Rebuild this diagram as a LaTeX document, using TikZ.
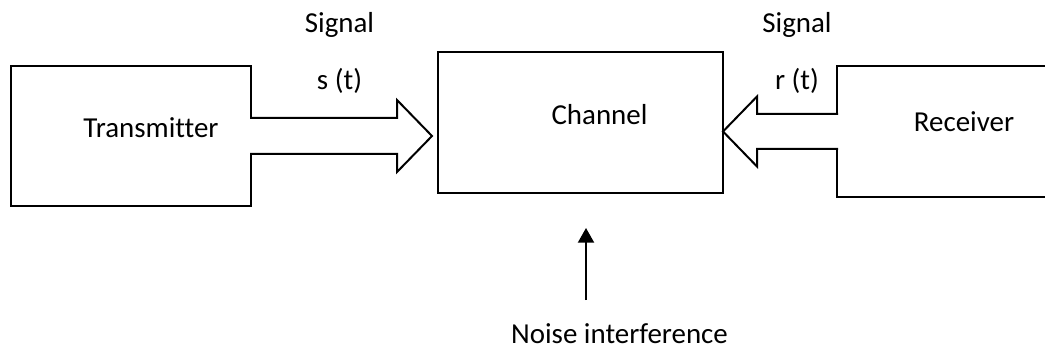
\documentclass[tikz,border=0pt]{standalone}
\usepackage{fontspec}
\setmainfont{Carlito}[Ligatures=NoCommon]
\usepackage{tikz}
\usetikzlibrary{calc,arrows.meta}
\tikzset{
    signal-box/.style = {draw=black, line width=1.5pt, rectangle, inner sep=0pt},
    block-arrow/.style = {draw=black, fill=white, line width=1.5pt, line join=miter},
    noise-arrow/.style = {draw=black, line width=1.5pt, -{Triangle[width=12pt,length=11pt]}},
    box-text/.style = {font=\fontsize{21.7}{26}\selectfont, inner sep=0pt, anchor=base},
}

\begin{document}
\begin{tikzpicture}[x=0.75pt, y=-0.75pt]
\clip (0,0) rectangle (1045,349);

\node[signal-box, minimum width=180pt, minimum height=105pt] (tx) at (131,136) {};
\node[signal-box, minimum width=213.75pt, minimum height=105.75pt] (ch) at (580.5,122.5) {};
\node[signal-box, minimum width=180pt, minimum height=98.25pt] (rx) at (957,131.5) {};

\draw[block-arrow] ($(tx.east)+(-2,-18)$) -- ($(ch.west|-tx.east)+(-40,-18)$) -- ++(0,-18)
    -- ($(ch.west|-tx.east)+(-5,0)$) -- ++(-35,36) -- ++(0,-18) -- ($(tx.east)+(-2,18)$);
\draw[block-arrow] ($(rx.west)+(2,-17.5)$) -- ($(ch.east|-rx.west)+(33,-17.5)$) -- ++(0,-17.5)
    -- ($(ch.east|-rx.west)+(-1,0)$) -- ++(34,35) -- ++(0,-17.5) -- ($(rx.west)+(2,17.5)$);

\node[box-text] (txt) at (151,138) {Transmitter};
\node[box-text] (cht) at (599.5,125) {Channel};
\node[box-text] (rxt) at (964,132) {Receiver};

\node[box-text] (sigl) at (339.5,33) {Signal};
\node[box-text] (st) at (339.5,90) {s (t)};
\node[box-text] (sigr) at (797,33) {Signal};
\node[box-text] (rt) at (797,90) {r (t)};

\node[box-text] (nz) at (619.5,343) {Noise interference};
\coordinate (nzs) at (586,300);
\draw[noise-arrow] (nzs) -- ($(nzs)+(0,-72)$);
\end{tikzpicture}
\end{document}
